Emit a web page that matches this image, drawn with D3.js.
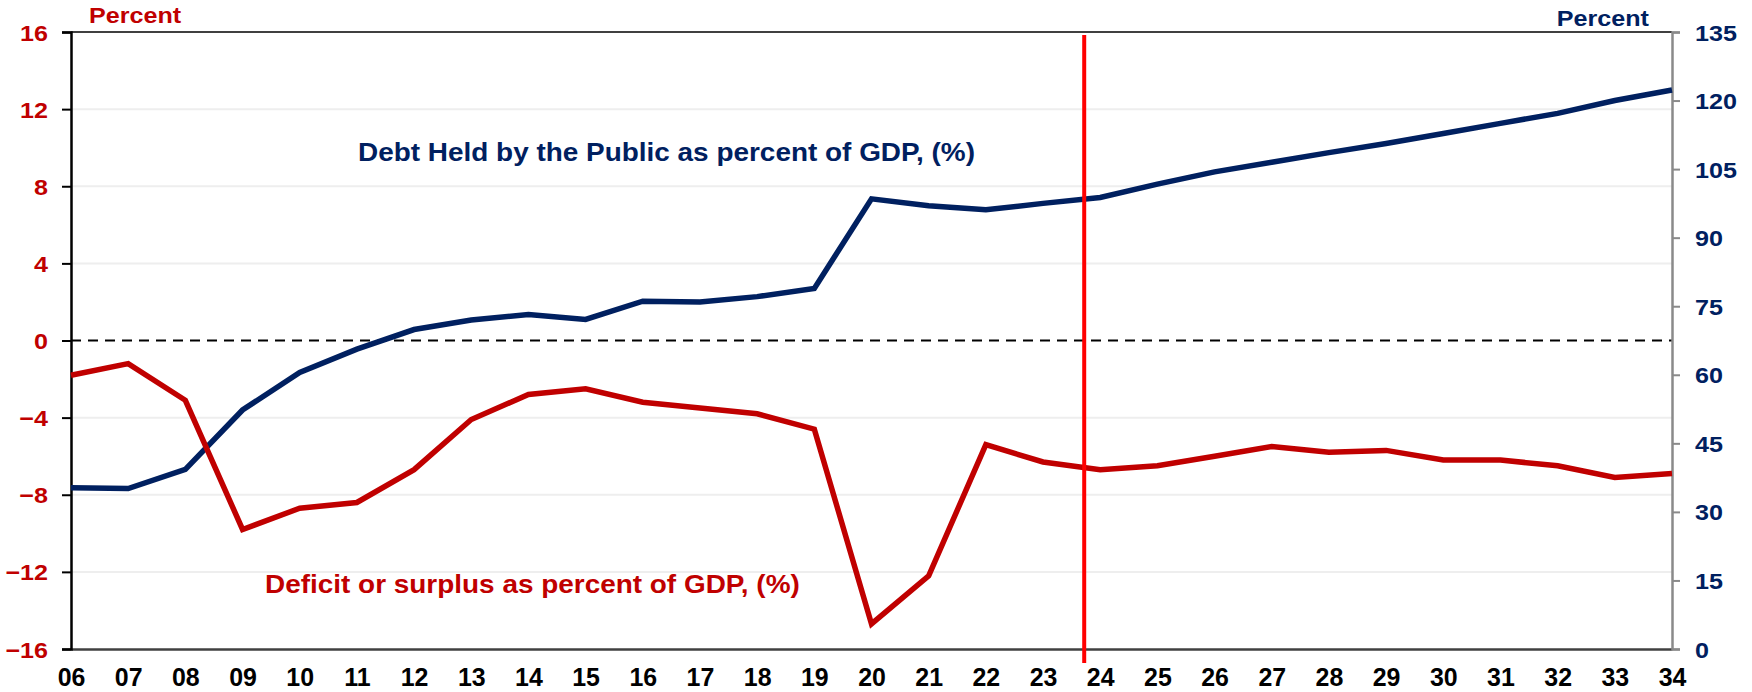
<!DOCTYPE html>
<html>
<head>
<meta charset="utf-8">
<script src="https://cdn.jsdelivr.net/npm/d3@7"></script>
<style>
  html, body { margin: 0; padding: 0; background: #ffffff; }
  svg { display: block; }
  text { font-family: "Liberation Sans", Arial, Helvetica, sans-serif; font-weight: bold; }
</style>
</head>
<body>
<div id="chart"></div>
<script>
// Fiscal years (two-digit labels), 2006 through 2034
const years = ["06","07","08","09","10","11","12","13","14","15","16","17","18","19","20",
               "21","22","23","24","25","26","27","28","29","30","31","32","33","34"];

// Deficit (-) or surplus (+) as percent of GDP — left axis
const deficit = [-1.8, -1.2, -3.1, -9.8, -8.7, -8.4, -6.7, -4.1, -2.8, -2.5, -3.2, -3.5, -3.8, -4.6, -14.7,
                 -12.2, -5.4, -6.3, -6.7, -6.5, -6.0, -5.5, -5.8, -5.7, -6.2, -6.2, -6.5, -7.1, -6.9];

// Debt held by the public as percent of GDP — right axis
const debt = [35.3, 35.1, 39.3, 52.3, 60.5, 65.6, 69.9, 72.0, 73.2, 72.1, 76.1, 75.9, 77.1, 78.9, 98.5,
              97.0, 96.1, 97.5, 98.8, 101.7, 104.4, 106.5, 108.6, 110.6, 112.8, 115.0, 117.2, 120.0, 122.3];

// Axis tick values
const leftTicks = [-16, -12, -8, -4, 0, 4, 8, 12, 16];
const rightTicks = [0, 15, 30, 45, 60, 75, 90, 105, 120, 135];

// Projection boundary: fraction of the way from FY23 to FY24
const projectionStart = { from: "23", to: "24", frac: 0.72 };

const RED = "#c00000", NAVY = "#002060";
const W = 1752, H = 692;
const margin = { top: 32, right: 80, bottom: 43, left: 71 };
const innerW = W - margin.left - margin.right;
const innerH = H - margin.top - margin.bottom;
const SX = 1.117; // horizontal stretch of the chart's lettering

const svg = d3.select("#chart").append("svg").attr("width", W).attr("height", H);
const g = svg.append("g").attr("transform", `translate(${margin.left},${margin.top})`);

const x = d3.scalePoint().domain(years).range([0, innerW]).padding(0);
const yL = d3.scaleLinear().domain([-16, 16]).range([innerH, 0]);
const yR = d3.scaleLinear().domain([0, 135]).range([innerH, 0]);

// light horizontal gridlines at the left-axis ticks
g.append("g").selectAll("line")
  .data(leftTicks.filter(d => d !== 0 && d !== 16 && d !== -16))
  .join("line")
  .attr("x1", 0).attr("x2", innerW)
  .attr("y1", d => yL(d)).attr("y2", d => yL(d))
  .attr("stroke", "#eeeeee").attr("stroke-width", 2);

// zero line
g.append("line")
  .attr("x1", 0).attr("x2", innerW)
  .attr("y1", yL(0)).attr("y2", yL(0))
  .attr("stroke", "#000").attr("stroke-width", 2.2)
  .attr("stroke-dasharray", "10,7");

// top frame line
g.append("line")
  .attr("x1", 0).attr("x2", innerW).attr("y1", 0).attr("y2", 0)
  .attr("stroke", "#404040").attr("stroke-width", 2);

// bottom axis (labels only)
const xAxis = g.append("g").attr("transform", `translate(0,${innerH})`)
  .call(d3.axisBottom(x).tickSize(0).tickPadding(0));
xAxis.select(".domain").attr("stroke", "#404040").attr("stroke-width", 2.5);
xAxis.selectAll(".tick text")
  .attr("fill", "#000").attr("font-size", 26.5)
  .attr("y", 0).attr("dy", 0)
  .attr("transform", "translate(0,37) scale(0.94,1)");

// left axis
const leftAxis = g.append("g")
  .call(d3.axisLeft(yL).tickValues(leftTicks).tickSize(9).tickPadding(0).tickFormat(d3.format("d")));
leftAxis.select(".domain").attr("stroke", "#000").attr("stroke-width", 2.5);
leftAxis.selectAll(".tick line").attr("stroke", "#000").attr("stroke-width", 2);
leftAxis.selectAll(".tick text")
  .attr("fill", RED).attr("font-size", 22.5)
  .attr("x", -23 / SX).attr("dy", "0.36em")
  .attr("transform", `scale(${SX},1)`);

// right axis
const rightAxis = g.append("g").attr("transform", `translate(${innerW},0)`)
  .call(d3.axisRight(yR).tickValues(rightTicks).tickSize(8).tickPadding(0));
rightAxis.select(".domain").attr("stroke", "#8a8a8a").attr("stroke-width", 2.5);
rightAxis.selectAll(".tick line").attr("stroke", "#8a8a8a").attr("stroke-width", 2);
rightAxis.selectAll(".tick text")
  .attr("fill", NAVY).attr("font-size", 22.5)
  .attr("x", 23 / SX).attr("dy", "0.36em")
  .attr("transform", `scale(${SX},1)`);

// series lines
const deficitLine = d3.line().x((d, i) => x(years[i])).y(d => yL(d));
const debtLine = d3.line().x((d, i) => x(years[i])).y(d => yR(d));

g.append("path").datum(debt)
  .attr("d", debtLine).attr("fill", "none")
  .attr("stroke", NAVY).attr("stroke-width", 5.5);

g.append("path").datum(deficit)
  .attr("d", deficitLine).attr("fill", "none")
  .attr("stroke", RED).attr("stroke-width", 5.5);

// projection boundary marker
const px = x(projectionStart.from) + projectionStart.frac * x.step();
g.append("line")
  .attr("x1", px).attr("x2", px)
  .attr("y1", 3).attr("y2", innerH + 14)
  .attr("stroke", "#ff0000").attr("stroke-width", 4);

// stretched bold label helper
function label(txt, tx, ty, size, color, anchor) {
  svg.append("text")
    .attr("transform", `translate(${tx},${ty}) scale(${SX},1)`)
    .attr("font-size", size).attr("fill", color)
    .attr("text-anchor", anchor || "start")
    .text(txt);
}

// axis unit titles
label("Percent", 89, 23, 22.5, RED);
label("Percent", 1649, 26, 22.5, NAVY, "end");

// series annotations
label("Debt Held by the Public as percent of GDP, (%)", 358, 161, 25, NAVY);
label("Deficit or surplus as percent of GDP, (%)", 265, 593, 25, RED);
</script>
</body>
</html>
